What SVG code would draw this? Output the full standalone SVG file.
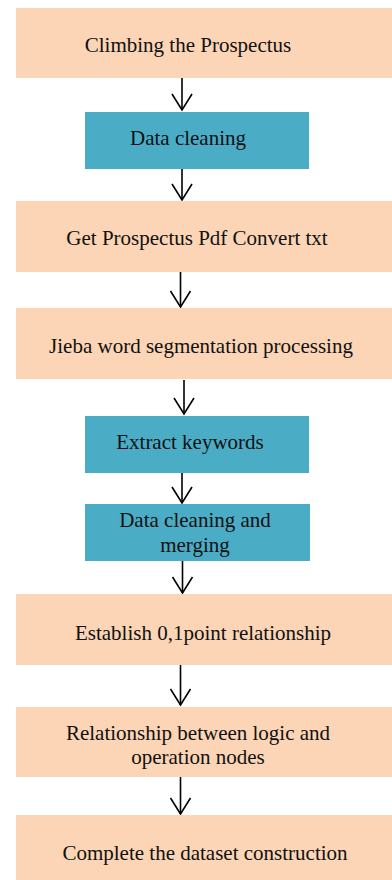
<svg xmlns="http://www.w3.org/2000/svg" width="392" height="880" viewBox="0 0 392 880">
<style>
.peach{fill:#FBD5B5;}
.teal{fill:#4BACC6;}
.lbl{font-family:'Liberation Serif','Times New Roman','DejaVu Serif',serif;font-size:21px;fill:#111;text-anchor:middle;}
.conn{stroke:#000;stroke-width:1.6;fill:none;}
</style>
<defs>
<marker id="arr" viewBox="0 0 19 22" refX="17" refY="11" markerWidth="19" markerHeight="22" markerUnits="userSpaceOnUse" orient="auto">
<path d="M1,1 L17,11 L1,21" fill="none" stroke="#000" stroke-width="1.6"/>
</marker>
</defs>
<rect width="392" height="880" fill="#fff"/>
<g id="connectors">
<line class="conn" x1="182" y1="78" x2="182" y2="110" marker-end="url(#arr)"/>
<line class="conn" x1="182" y1="169" x2="182" y2="200" marker-end="url(#arr)"/>
<line class="conn" x1="180.5" y1="272" x2="180.5" y2="307" marker-end="url(#arr)"/>
<line class="conn" x1="184" y1="380" x2="184" y2="414" marker-end="url(#arr)"/>
<line class="conn" x1="182" y1="473" x2="182" y2="503" marker-end="url(#arr)"/>
<line class="conn" x1="182.5" y1="561" x2="182.5" y2="593" marker-end="url(#arr)"/>
<line class="conn" x1="180.5" y1="665" x2="180.5" y2="705" marker-end="url(#arr)"/>
<line class="conn" x1="180.5" y1="777" x2="180.5" y2="814" marker-end="url(#arr)"/>
</g>
<g id="n1"><rect class="peach" x="16" y="8" width="376" height="70"/><text class="lbl" font-family="Liberation Serif, serif" x="188" y="52">Climbing the Prospectus</text></g>
<g id="n2"><rect class="teal" x="85" y="112" width="224" height="57"/><text class="lbl" font-family="Liberation Serif, serif" x="188" y="145">Data cleaning</text></g>
<g id="n3"><rect class="peach" x="16" y="201" width="376" height="71"/><text class="lbl" font-family="Liberation Serif, serif" x="197" y="245">Get Prospectus Pdf Convert txt</text></g>
<g id="n4"><rect class="peach" x="16" y="308" width="376" height="71"/><text class="lbl" font-family="Liberation Serif, serif" x="201" y="353">Jieba word segmentation processing</text></g>
<g id="n5"><rect class="teal" x="85" y="416" width="224" height="57"/><text class="lbl" font-family="Liberation Serif, serif" x="190" y="449">Extract keywords</text></g>
<g id="n6"><rect class="teal" x="85" y="504" width="225" height="57"/><text class="lbl" font-family="Liberation Serif, serif" x="195" y="527">Data cleaning and</text><text class="lbl" font-family="Liberation Serif, serif" x="195" y="552">merging</text></g>
<g id="n7"><rect class="peach" x="16" y="594" width="376" height="71"/><text class="lbl" font-family="Liberation Serif, serif" x="203" y="640">Establish 0,1point relationship</text></g>
<g id="n8"><rect class="peach" x="16" y="707" width="376" height="70"/><text class="lbl" font-family="Liberation Serif, serif" x="198" y="740">Relationship between logic and</text><text class="lbl" font-family="Liberation Serif, serif" x="198" y="764">operation nodes</text></g>
<g id="n9"><rect class="peach" x="16" y="815" width="376" height="65"/><text class="lbl" font-family="Liberation Serif, serif" x="205" y="860">Complete the dataset construction</text></g>
</svg>
